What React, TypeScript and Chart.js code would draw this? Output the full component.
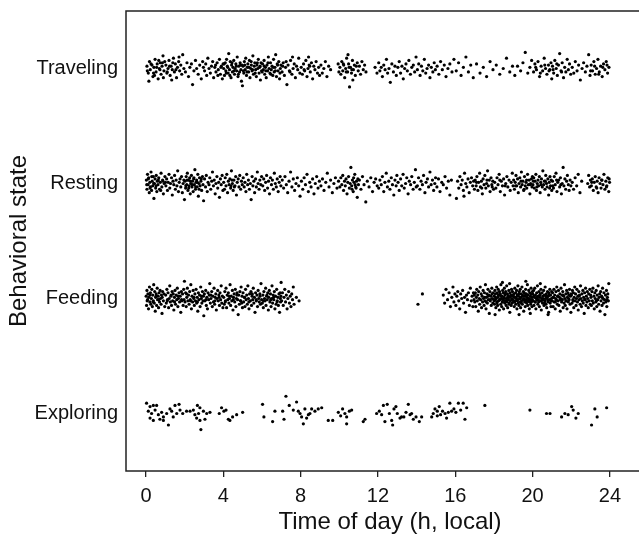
import { useEffect, useRef } from "react";
import { Chart, registerables } from "chart.js";

Chart.register(...registerables);

// Behavioral states, bottom to top (y value = index + 1)
const categories = ["Exploring", "Feeding", "Resting", "Traveling"];
const xTickValues = [0, 4, 8, 12, 16, 20, 24];
const xTitle = "Time of day (h, local)";
const yTitle = "Behavioral state";

// Each array: [time (h), vertical jitter (hundredths of a row), ...]
const traveling = [
  0.05, 2, 0.12, -4, 0.18, 6, 0.22, -1, 0.31, 3, 0.36, -7, 0.41, 1, 0.47, 8, 0.52, -3, 0.58, 4, 0.63, -9, 0.69, 0, 0.74, 5, 0.78, -5, 0.83, 2, 0.88, 11, 0.93, -2, 0.97, 6, 0.15, -11, 0.44, -6, 0.66, 7, 0.9, -8,
  1.03, 3, 1.08, -4, 1.14, 0, 1.19, 7, 1.25, -6, 1.3, 2, 1.36, -1, 1.42, 9, 1.47, -3, 1.52, 4, 1.58, -8, 1.63, 1, 1.69, 6, 1.74, -2, 1.8, 3, 1.85, -5, 1.9, 12, 1.96, 0, 1.33, -10, 1.71, 10,
  2.04, -3, 2.12, 5, 2.2, -7, 2.27, 1, 2.35, 4, 2.41, -14, 2.48, -2, 2.56, 7, 2.62, 0, 2.7, -5, 2.78, 3, 2.86, -9, 2.93, 6, 2.97, 1,
  3.03, -2, 3.09, 4, 3.14, -6, 3.2, 9, 3.26, 0, 3.33, -4, 3.39, 2, 3.45, 6, 3.5, -8, 3.56, 1, 3.62, -3, 3.68, 5, 3.74, -1, 3.8, 8, 3.85, -5, 3.9, 2, 3.95, -9, 3.99, 4,
  4.02, 0, 4.06, -6, 4.1, 5, 4.13, -2, 4.17, 8, 4.21, 2, 4.25, -4, 4.28, 13, 4.32, -1, 4.36, 6, 4.4, -8, 4.43, 3, 4.47, -3, 4.5, 1, 4.54, 7, 4.58, -5, 4.61, 0, 4.65, 4, 4.69, -2, 4.72, 10, 4.76, -7, 4.8, 2, 4.84, -3, 4.87, 5, 4.91, -1, 4.94, -11, 4.97, 3, 4.99, -15,
  5.02, 2, 5.06, -4, 5.09, 6, 5.13, -1, 5.16, 9, 5.2, -6, 5.24, 1, 5.27, 4, 5.31, -3, 5.35, 7, 5.38, -8, 5.42, 0, 5.45, 3, 5.49, -2, 5.53, 11, 5.56, -5, 5.6, 2, 5.63, 5, 5.67, -1, 5.71, -7, 5.74, 3, 5.78, 0, 5.81, 8, 5.85, -4, 5.88, 1, 5.92, -10, 5.95, 5, 5.98, -2,
  6.03, 4, 6.07, -1, 6.11, 7, 6.14, -5, 6.18, 1, 6.22, -8, 6.26, 3, 6.29, -2, 6.33, 10, 6.37, 0, 6.41, -4, 6.44, 5, 6.48, -1, 6.52, 2, 6.56, -6, 6.6, 8, 6.63, -3, 6.67, 1, 6.71, 12, 6.75, -7, 6.79, 4, 6.83, -2, 6.87, 6, 6.91, -9, 6.95, 0, 6.98, 3,
  7.04, -3, 7.1, 5, 7.16, -6, 7.22, 1, 7.29, -14, 7.35, 3, 7.42, -2, 7.48, 7, 7.55, -5, 7.61, 0, 7.67, 4, 7.73, -8, 7.79, 2, 7.85, -1, 7.9, 9, 7.96, -4, 7.25, 6, 7.58, 10,
  8.03, 1, 8.09, -5, 8.15, 4, 8.21, -2, 8.27, 7, 8.33, -7, 8.38, 0, 8.44, 3, 8.5, -3, 8.56, 5, 8.62, -9, 8.68, 2, 8.74, -1, 8.8, 6, 8.87, -4, 8.93, 1, 8.98, -6, 8.41, 10,
  9.05, 3, 9.12, -4, 9.2, 0, 9.28, 6, 9.36, -7, 9.45, 2, 9.55, -1, 9.94, 4, 9.98, -3,
  10.03, 1, 10.08, -5, 10.13, 6, 10.18, -2, 10.23, 3, 10.28, -8, 10.33, 0, 10.38, 9, 10.43, -3, 10.48, 4, 10.53, -16, 10.58, 1, 10.63, -4, 10.68, 7, 10.73, -1, 10.78, 3, 10.83, -6, 10.88, 2, 10.93, 5, 10.98, -2, 10.45, 12, 10.7, -10,
  11.04, 2, 11.1, -5, 11.17, 6, 11.24, -1, 11.31, 3, 11.38, -3, 11.85, 1, 11.95, -4,
  12.04, 5, 12.1, -2, 12.17, 1, 12.23, -7, 12.3, 3, 12.37, -1, 12.44, 8, 12.5, -4, 12.57, 0, 12.64, -12, 12.72, 4, 12.8, -3, 12.88, 2, 12.95, -6,
  13.03, 1, 13.1, 6, 13.17, -4, 13.24, 2, 13.31, -9, 13.38, 0, 13.45, 4, 13.52, -2, 13.6, 7, 13.68, -5, 13.75, 1, 13.83, 3, 13.9, -3, 13.97, 10,
  14.04, -1, 14.11, 4, 14.18, -6, 14.25, 2, 14.32, -2, 14.4, 8, 14.47, -4, 14.54, 0, 14.62, 3, 14.69, -8, 14.76, 1, 14.84, -3, 14.91, 5, 14.97, -1,
  15.06, 2, 15.15, -5, 15.24, 6, 15.33, -1, 15.43, 3, 15.52, -7, 15.62, 0, 15.72, 4, 15.83, -3, 15.93, 8,
  16.05, -2, 16.17, 5, 16.3, -6, 16.42, 1, 16.55, 10, 16.68, -3, 16.8, 3, 16.93, -8,
  17.1, 4, 17.28, -4, 17.45, 1, 17.62, -7, 17.8, 6, 17.95, -1,
  18.12, 3, 18.3, -5, 18.48, 0, 18.65, 9, 18.82, -3, 18.96, 2,
  19.08, -6, 19.22, 2, 19.38, -2, 19.5, 5, 19.62, 14, 19.75, -4, 19.86, 1, 19.95, 7,
  20.05, -3, 20.12, 4, 20.2, -1, 20.28, 6, 20.36, -7, 20.44, 2, 20.52, -2, 20.6, 9, 20.67, 0, 20.74, -5, 20.82, 3, 20.89, -1, 20.95, 5, 20.99, -9,
  21.03, 2, 21.09, -4, 21.15, 7, 21.22, 0, 21.28, -6, 21.34, 3, 21.4, 13, 21.47, -2, 21.53, 5, 21.6, -8, 21.66, 1, 21.72, -3, 21.79, 8, 21.85, -1, 21.91, 4, 21.97, -5,
  22.05, 1, 22.13, -4, 22.21, 6, 22.3, -2, 22.38, 3, 22.47, -10, 22.56, 0, 22.64, 5, 22.73, -3, 22.81, 2, 22.9, 12, 22.97, -6,
  23.03, 3, 23.1, -2, 23.17, 6, 23.24, -5, 23.31, 0, 23.38, 8, 23.45, -3, 23.52, 2, 23.6, -7, 23.67, 4, 23.74, -1, 23.81, 6, 23.88, -4, 23.95, 1,
  0.07, -2, 0.26, 4, 0.39, -4, 0.55, 1, 0.72, -1, 0.85, 5, 1.1, -3, 1.22, 2, 1.39, 5, 1.55, -1, 3.6, 3, 3.72, -6, 3.88, 1, 4.04, 4, 4.15, -4, 4.23, 1, 4.34, -6, 4.45, 5, 4.56, -2, 4.67, 2, 4.78, -5, 4.89, 3,
  5.04, -2, 5.11, 3, 5.22, -3, 5.33, 1, 5.44, 6, 5.51, -1, 5.65, -4, 5.76, 5, 5.9, 2, 6.01, -3, 6.12, 2, 6.2, -2, 6.31, 5, 6.46, -5, 6.58, 1, 6.69, -2, 6.81, 3, 6.93, -4, 7.07, 2, 7.45, -3, 8.18, -1, 8.47, 2,
  10.21, 4, 10.36, -3, 10.51, 1, 10.65, -1, 20.16, 1, 20.4, -4, 20.63, 3, 20.85, -2, 21.06, -1, 21.25, 4, 21.5, -3, 23.0, -2, 23.21, 2, 23.42, -5, 23.63, 1, 23.85, 3,
];

const resting = [
  0.02, 3, 0.05, -5, 0.08, 8, 0.11, -1, 0.14, 5, 0.17, -8, 0.2, 1, 0.23, -3, 0.26, 10, 0.29, -6, 0.32, 2, 0.35, -2, 0.38, 6, 0.41, -13, 0.44, 0, 0.47, 4, 0.5, -4, 0.53, 7, 0.56, -7, 0.59, 2, 0.62, -1, 0.66, 5, 0.7, -5, 0.74, 1, 0.78, 9, 0.82, -3, 0.86, 3, 0.9, -9, 0.94, 0, 0.98, 6,
  1.03, -2, 1.07, 4, 1.11, -6, 1.15, 1, 1.19, 8, 1.23, -4, 1.27, 0, 1.32, 5, 1.36, -10, 1.4, 2, 1.44, -1, 1.48, 7, 1.52, -5, 1.56, 3, 1.6, -2, 1.64, 11, 1.68, -7, 1.72, 1, 1.76, 4, 1.8, -3, 1.84, 6, 1.88, -8, 1.92, 0, 1.96, 3, 1.99, -14,
  2.02, 2, 2.05, -4, 2.08, 6, 2.11, -1, 2.14, 9, 2.17, -6, 2.2, 3, 2.23, -2, 2.26, 5, 2.29, -9, 2.32, 0, 2.35, 7, 2.38, -3, 2.41, 2, 2.44, -7, 2.47, 4, 2.5, -1, 2.53, 12, 2.56, -5, 2.59, 1, 2.62, 3, 2.65, -3, 2.68, 8, 2.71, -11, 2.74, 0, 2.77, 5, 2.8, -2, 2.84, 2, 2.88, -6, 2.92, 6, 2.95, -1, 2.98, -15,
  3.03, 4, 3.08, -3, 3.12, 7, 3.17, -7, 3.21, 1, 3.26, -1, 3.3, 5, 3.35, -5, 3.4, 2, 3.44, 10, 3.49, -2, 3.53, 3, 3.58, -9, 3.62, 0, 3.67, 6, 3.71, -4, 3.76, 1, 3.8, -12, 3.85, 4, 3.89, -1, 3.94, 7, 3.98, -6,
  4.02, 1, 4.06, -5, 4.1, 5, 4.14, -2, 4.18, 8, 4.22, -8, 4.26, 2, 4.3, -1, 4.34, 4, 4.38, -4, 4.42, 11, 4.47, 0, 4.51, -6, 4.55, 3, 4.6, -2, 4.64, 6, 4.68, -10, 4.72, 1, 4.77, 4, 4.81, -3, 4.85, 7, 4.9, -5, 4.94, 2, 4.98, -1,
  5.03, 5, 5.08, -3, 5.12, 1, 5.17, -7, 5.21, 8, 5.26, -1, 5.3, 3, 5.35, -5, 5.4, 0, 5.44, -14, 5.49, 6, 5.53, -2, 5.58, 2, 5.62, -8, 5.67, 4, 5.71, -3, 5.76, 10, 5.8, 0, 5.85, -5, 5.89, 3, 5.94, -1, 5.98, 6,
  6.04, -2, 6.09, 4, 6.14, -6, 6.19, 1, 6.24, 7, 6.29, -4, 6.34, 2, 6.39, -9, 6.44, 5, 6.49, -1, 6.54, 3, 6.59, -5, 6.64, 9, 6.69, 0, 6.74, -3, 6.79, 4, 6.84, -7, 6.89, 1, 6.94, 6, 6.98, -2,
  7.05, 3, 7.12, -4, 7.19, 6, 7.26, -1, 7.33, -8, 7.4, 2, 7.48, 10, 7.55, -3, 7.62, 4, 7.69, -6, 7.76, 0, 7.83, 5, 7.9, -2, 7.97, -11,
  8.04, 2, 8.11, -5, 8.18, 5, 8.25, -1, 8.33, 8, 8.4, -7, 8.47, 1, 8.54, -3, 8.62, 4, 8.69, -9, 8.76, 0, 8.83, 6, 8.9, -4, 8.97, 2,
  9.05, -2, 9.13, 4, 9.21, -6, 9.3, 1, 9.38, 9, 9.47, -3, 9.55, 3, 9.64, -8, 9.72, 0, 9.8, 5, 9.88, -4, 9.96, 2,
  10.03, -3, 10.08, 5, 10.13, -1, 10.18, 7, 10.22, -6, 10.27, 2, 10.31, -2, 10.35, 4, 10.4, -9, 10.44, 1, 10.48, 6, 10.52, -4, 10.56, 0, 10.6, 14, 10.64, -2, 10.68, 3, 10.72, -7, 10.76, 1, 10.8, 8, 10.85, -3, 10.89, 2, 10.93, -12, 10.96, 4, 10.99, -1,
  11.04, 3, 11.12, -5, 11.2, 6, 11.28, -1, 11.37, -16, 11.45, 2, 11.54, -3, 11.63, 5, 11.72, -7, 11.8, 1, 11.88, 4, 11.96, -2,
  12.04, -4, 12.1, 3, 12.17, -1, 12.23, 6, 12.3, -7, 12.36, 1, 12.43, 9, 12.49, -3, 12.56, 2, 12.62, -5, 12.69, 5, 12.75, -1, 12.82, -10, 12.88, 3, 12.94, -2, 12.98, 7,
  13.04, 1, 13.1, -6, 13.17, 4, 13.23, -2, 13.3, 8, 13.36, -4, 13.43, 0, 13.49, 5, 13.56, -9, 13.62, 2, 13.69, -1, 13.75, 6, 13.82, -5, 13.88, 1, 13.94, 12, 13.98, -3,
  14.04, -2, 14.1, 5, 14.17, -5, 14.23, 2, 14.3, -1, 14.36, 7, 14.43, -8, 14.49, 1, 14.56, 4, 14.62, -3, 14.69, 10, 14.75, -1, 14.82, 3, 14.88, -6, 14.94, 0, 14.98, 5,
  15.05, -3, 15.13, 4, 15.21, -7, 15.3, 1, 15.38, -1, 15.47, 6, 15.55, -4, 15.64, 2, 15.72, -10, 15.8, 3,
  16.06, -13, 16.12, 2, 16.18, -4, 16.24, 6, 16.3, -1, 16.36, 3, 16.42, -6, 16.48, 9, 16.54, 0, 16.6, -3, 16.66, 4, 16.72, -8, 16.78, 1, 16.84, 5, 16.9, -2, 16.95, 2, 16.99, -5, 16.45, -11,
  17.03, 3, 17.08, -2, 17.12, 6, 17.17, -6, 17.21, 1, 17.26, 9, 17.3, -3, 17.35, 2, 17.4, -9, 17.44, 4, 17.49, -1, 17.53, 7, 17.58, -4, 17.62, 0, 17.67, 11, 17.71, -2, 17.76, 3, 17.8, -7, 17.85, 5, 17.89, -1, 17.94, 2, 17.98, -5,
  18.04, 1, 18.1, -4, 18.16, 5, 18.21, -1, 18.27, 8, 18.33, -7, 18.38, 2, 18.44, -2, 18.5, 4, 18.55, -10, 18.61, 0, 18.67, 6, 18.72, -3, 18.78, 3, 18.84, -6, 18.89, 1, 18.95, 9, 18.99, -2,
  19.02, 3, 19.06, -5, 19.1, 1, 19.14, 7, 19.18, -2, 19.22, 4, 19.26, -8, 19.3, 0, 19.34, 5, 19.38, -3, 19.42, 10, 19.46, -1, 19.5, 2, 19.54, -6, 19.58, 6, 19.62, -2, 19.66, 1, 19.7, -4, 19.74, 8, 19.78, -1, 19.82, 3, 19.86, -9, 19.9, 0, 19.94, 4, 19.97, -3, 19.99, 6,
  20.02, -1, 20.06, 5, 20.09, -4, 20.13, 2, 20.17, 8, 20.2, -6, 20.24, 0, 20.28, 3, 20.31, -2, 20.35, 6, 20.39, -8, 20.42, 1, 20.46, 4, 20.5, -3, 20.53, 11, 20.57, -1, 20.61, 2, 20.64, -5, 20.68, 7, 20.72, 0, 20.75, -3, 20.79, 4, 20.83, -10, 20.86, 1, 20.9, 6, 20.93, -2, 20.96, 3, 20.99, -6,
  21.03, 2, 21.08, -4, 21.12, 6, 21.17, -1, 21.21, 9, 21.26, -7, 21.3, 1, 21.35, 3, 21.4, -3, 21.44, 5, 21.49, -9, 21.53, 0, 21.58, 14, 21.62, -2, 21.67, 4, 21.71, -5, 21.76, 2, 21.8, 7, 21.85, -1, 21.89, -6, 21.94, 3, 21.98, -2,
  22.05, 1, 22.12, -5, 22.2, 5, 22.28, -2, 22.36, 8, 22.45, -8, 22.54, 2, 22.85, 0, 22.9, 7, 22.95, -3, 22.99, 3,
  23.04, -2, 23.09, 4, 23.14, -6, 23.19, 1, 23.24, 6, 23.29, -3, 23.34, 2, 23.39, -8, 23.44, 5, 23.49, 0, 23.54, -4, 23.59, 3, 23.64, -1, 23.69, 8, 23.74, -5, 23.79, 2, 23.84, -2, 23.89, 5, 23.94, -7, 23.98, 1,
  0.04, -1, 0.12, 4, 0.21, -4, 0.3, 6, 0.4, 0, 0.52, -2, 0.64, 3, 0.76, -6, 0.88, 2, 1.01, 1, 2.06, -2, 2.13, 3, 2.21, -4, 2.3, 2, 2.39, -1, 2.48, 5, 2.57, -3, 2.66, 1, 2.75, -5, 2.86, 4, 4.4, -2, 4.45, 3, 4.57, -3,
  10.66, -5, 10.74, 5, 10.82, -1, 10.87, -4, 17.1, 1, 17.37, -4, 17.64, 3, 17.91, -3, 18.3, 3, 18.58, -2, 19.12, -2, 19.4, 2, 19.56, -5, 19.69, 3, 19.88, -1, 20.04, 2, 20.22, -3, 20.44, -1, 20.66, 2, 20.88, -4,
  21.05, -2, 21.24, 3, 21.46, -1, 23.06, 1, 23.32, -4, 23.57, 3, 23.82, -3, 23.96, 4,
];

const feeding = [
  0.01, 2, 0.03, -6, 0.05, 7, 0.08, -1, 0.1, 4, 0.13, -9, 0.15, 1, 0.18, 10, 0.2, -3, 0.23, 5, 0.25, -5, 0.28, 0, 0.3, 8, 0.33, -7, 0.35, 3, 0.38, -2, 0.4, 12, 0.43, -4, 0.45, 6, 0.48, -11, 0.5, 1, 0.53, 4, 0.55, -6, 0.58, 9, 0.6, -1, 0.63, 2, 0.65, -8, 0.68, 5, 0.7, -3, 0.73, 7, 0.75, 0, 0.78, -5, 0.8, 3, 0.83, -13, 0.86, 6, 0.9, -2, 0.93, 4, 0.97, -7,
  1.02, 3, 1.05, -4, 1.08, 8, 1.11, -1, 1.14, 5, 1.17, -8, 1.2, 0, 1.23, 11, 1.26, -3, 1.29, 2, 1.32, -6, 1.35, 6, 1.38, -2, 1.41, 4, 1.44, -10, 1.47, 1, 1.5, 7, 1.53, -5, 1.56, 3, 1.59, -1, 1.62, 9, 1.65, -7, 1.68, 0, 1.71, 5, 1.74, -3, 1.77, 2, 1.8, -12, 1.83, 6, 1.86, -2, 1.89, 4, 1.92, -6, 1.95, 8, 1.97, -1, 1.99, 15,
  2.02, -3, 2.05, 5, 2.08, -7, 2.11, 1, 2.14, 9, 2.17, -2, 2.2, 3, 2.23, -5, 2.26, 6, 2.29, -1, 2.32, 12, 2.35, -9, 2.38, 2, 2.41, -3, 2.44, 7, 2.47, 0, 2.5, -6, 2.53, 4, 2.56, -2, 2.59, 8, 2.62, -4, 2.65, 1, 2.68, -11, 2.71, 5, 2.74, -1, 2.77, 3, 2.8, -7, 2.83, 10, 2.86, 0, 2.89, -4, 2.92, 6, 2.95, -2, 2.97, 2, 2.99, -15,
  3.02, 4, 3.05, -2, 3.09, 7, 3.12, -6, 3.15, 1, 3.18, -9, 3.21, 5, 3.24, -1, 3.27, 3, 3.3, 13, 3.33, -4, 3.36, 0, 3.4, 6, 3.43, -7, 3.46, 2, 3.49, -3, 3.52, 9, 3.55, -5, 3.58, 1, 3.61, 4, 3.64, -10, 3.67, 0, 3.71, 7, 3.74, -2, 3.77, 3, 3.8, -6, 3.83, 5, 3.86, -1, 3.89, 11, 3.92, -4, 3.95, 2, 3.98, -8,
  4.02, 1, 4.05, -5, 4.08, 6, 4.11, -2, 4.14, 9, 4.17, -8, 4.2, 3, 4.23, -1, 4.26, 5, 4.29, -4, 4.32, 0, 4.35, 12, 4.38, -6, 4.41, 2, 4.44, -2, 4.47, 7, 4.5, -10, 4.53, 1, 4.56, 4, 4.59, -3, 4.62, 8, 4.65, -7, 4.68, 0, 4.71, 5, 4.74, -1, 4.77, -14, 4.8, 3, 4.83, -5, 4.86, 6, 4.89, -2, 4.92, 10, 4.95, -4, 4.97, 2, 4.99, -8,
  5.02, 5, 5.05, -3, 5.09, 1, 5.12, -7, 5.15, 8, 5.18, -1, 5.21, 3, 5.24, -5, 5.27, 11, 5.3, 0, 5.33, -9, 5.36, 4, 5.4, -2, 5.43, 6, 5.46, -6, 5.49, 2, 5.52, -1, 5.55, 9, 5.58, -4, 5.61, 1, 5.64, -12, 5.67, 5, 5.71, -2, 5.74, 3, 5.77, -7, 5.8, 7, 5.83, 0, 5.86, -3, 5.89, 4, 5.92, -5, 5.95, 13, 5.98, -1,
  6.02, -4, 6.05, 3, 6.07, -8, 6.1, 6, 6.13, 0, 6.16, -2, 6.19, 9, 6.21, -6, 6.24, 2, 6.27, -1, 6.3, 5, 6.33, -10, 6.35, 1, 6.38, 7, 6.41, -3, 6.44, 4, 6.47, -7, 6.5, 0, 6.52, 11, 6.55, -4, 6.58, 3, 6.61, -1, 6.64, 6, 6.67, -9, 6.7, 2, 6.73, -5, 6.76, 8, 6.79, -2, 6.82, 1, 6.85, -6, 6.88, 4, 6.91, -12, 6.94, 5, 6.96, -3, 6.98, 2, 6.99, 14,
  7.02, -2, 7.06, 5, 7.1, -6, 7.14, 1, 7.18, 8, 7.22, -3, 7.26, 3, 7.3, -9, 7.34, 0, 7.38, 6, 7.42, -4, 7.46, 2, 7.5, -7, 7.54, 4, 7.58, -1, 7.62, 10, 7.66, -5, 7.78, 1, 7.92, -2,
  14.07, -5, 14.3, 4,
  15.38, 3, 15.45, -4, 15.52, 8, 15.6, -1, 15.68, 5, 15.75, -7, 15.82, 1, 15.88, 10, 15.93, -3, 15.98, 4,
  16.03, -6, 16.08, 2, 16.13, 6, 16.18, -2, 16.23, -9, 16.28, 4, 16.33, 0, 16.38, 7, 16.43, -4, 16.48, 1, 16.53, -12, 16.58, 3, 16.63, -1, 16.68, 5, 16.73, -6, 16.78, 9, 16.83, -2, 16.87, 2, 16.91, -7, 16.94, 5, 16.97, -1, 16.99, 3,
  17.01, -3, 17.04, 5, 17.06, -7, 17.09, 1, 17.11, 8, 17.14, -2, 17.16, 3, 17.19, -11, 17.21, 6, 17.24, 0, 17.26, -5, 17.29, 10, 17.31, -1, 17.34, 4, 17.36, -8, 17.39, 2, 17.41, -3, 17.44, 7, 17.46, 0, 17.49, -6, 17.51, 5, 17.54, -2, 17.56, 12, 17.59, -9, 17.61, 1, 17.64, 4, 17.66, -4, 17.69, 8, 17.71, -1, 17.74, 3, 17.76, -13, 17.79, 6, 17.81, -2, 17.84, 2, 17.86, -6, 17.89, 9, 17.91, 0, 17.94, -4, 17.96, 5, 17.99, -1,
  18.01, 2, 18.03, -5, 18.05, 7, 18.07, -1, 18.08, 4, 18.1, -8, 18.12, 0, 18.14, 10, 18.15, -3, 18.17, 5, 18.19, -6, 18.21, 1, 18.22, 8, 18.24, -2, 18.26, 3, 18.28, -10, 18.29, 6, 18.31, -1, 18.33, 4, 18.35, -5, 18.36, 12, 18.38, 0, 18.4, -7, 18.42, 2, 18.43, -3, 18.45, 7, 18.47, -1, 18.49, 5, 18.5, -9, 18.52, 1, 18.54, 9, 18.56, -4, 18.57, 3, 18.59, -2, 18.61, 6, 18.63, -6, 18.64, 0, 18.66, 11, 18.68, -3, 18.7, 4, 18.71, -8, 18.73, 2, 18.75, -1, 18.77, 7, 18.78, -5, 18.8, 1, 18.82, -12, 18.84, 5, 18.85, -2, 18.87, 3, 18.89, -6, 18.91, 8, 18.92, 0, 18.94, -4, 18.96, 6, 18.98, -1, 18.99, 2, 18.06, -14, 18.44, 14, 18.81, 13,
  19.01, -3, 19.03, 4, 19.05, -7, 19.06, 1, 19.08, 9, 19.1, -2, 19.12, 5, 19.13, -5, 19.15, 0, 19.17, 7, 19.19, -9, 19.2, 3, 19.22, -1, 19.24, 11, 19.26, -4, 19.27, 2, 19.29, -6, 19.31, 6, 19.33, 0, 19.34, -3, 19.36, 8, 19.38, -8, 19.4, 1, 19.41, 4, 19.43, -2, 19.45, 10, 19.47, -5, 19.48, 3, 19.5, -1, 19.52, 6, 19.54, -11, 19.55, 0, 19.57, 5, 19.59, -3, 19.61, 2, 19.62, -7, 19.64, 8, 19.66, -1, 19.68, 4, 19.69, -4, 19.71, 1, 19.73, 12, 19.75, -6, 19.76, 3, 19.78, -2, 19.8, 7, 19.82, 0, 19.83, -9, 19.85, 5, 19.87, -1, 19.89, 2, 19.9, -5, 19.92, 9, 19.94, -3, 19.96, 1, 19.97, -7, 19.99, 6, 19.3, -14, 19.65, 15, 19.88, -13,
  20.01, 4, 20.03, -2, 20.05, 7, 20.07, -6, 20.09, 1, 20.11, 9, 20.13, -3, 20.15, 3, 20.17, -9, 20.19, 0, 20.21, 5, 20.23, -1, 20.25, 11, 20.27, -5, 20.29, 2, 20.31, -3, 20.33, 6, 20.35, -7, 20.37, 1, 20.39, 4, 20.41, -2, 20.43, 8, 20.45, -10, 20.47, 0, 20.49, 5, 20.51, -4, 20.53, 2, 20.55, -1, 20.57, 7, 20.59, -6, 20.61, 3, 20.63, -2, 20.65, 10, 20.67, 0, 20.69, -5, 20.71, 4, 20.73, -8, 20.75, 1, 20.77, 6, 20.79, -3, 20.81, 2, 20.83, -12, 20.85, 5, 20.87, -1, 20.89, 8, 20.91, -4, 20.93, 3, 20.95, -7, 20.97, 0, 20.99, 6, 20.4, 13, 20.8, -14,
  21.01, -2, 21.03, 5, 21.06, -7, 21.08, 1, 21.1, 8, 21.12, -3, 21.14, 3, 21.17, -9, 21.19, 0, 21.21, 6, 21.23, -1, 21.25, 10, 21.28, -5, 21.3, 2, 21.32, -2, 21.34, 7, 21.36, -6, 21.39, 1, 21.41, 4, 21.43, -11, 21.45, 0, 21.47, 9, 21.5, -3, 21.52, 3, 21.54, -1, 21.56, 6, 21.58, -8, 21.61, 2, 21.63, -4, 21.65, 12, 21.67, 0, 21.69, -6, 21.72, 4, 21.74, -2, 21.76, 7, 21.78, -9, 21.8, 1, 21.83, 5, 21.85, -3, 21.87, 3, 21.89, -1, 21.91, 8, 21.94, -5, 21.96, 2, 21.98, -12, 21.99, 4,
  22.01, 3, 22.04, -4, 22.06, 7, 22.08, -1, 22.11, 5, 22.13, -8, 22.15, 1, 22.18, 10, 22.2, -2, 22.22, 4, 22.25, -6, 22.27, 0, 22.29, 8, 22.32, -3, 22.34, 2, 22.36, -10, 22.39, 6, 22.41, -1, 22.43, 3, 22.46, -5, 22.48, 11, 22.5, 0, 22.53, -7, 22.55, 4, 22.57, -2, 22.6, 7, 22.62, -4, 22.64, 1, 22.67, -13, 22.69, 5, 22.71, -1, 22.74, 9, 22.76, -6, 22.78, 2, 22.81, -3, 22.83, 6, 22.85, 0, 22.88, -8, 22.9, 4, 22.93, -2, 22.96, 8, 22.98, -5,
  23.02, 1, 23.04, -6, 23.07, 6, 23.09, -2, 23.12, 9, 23.14, -4, 23.17, 2, 23.19, -9, 23.22, 5, 23.24, 0, 23.27, -3, 23.29, 7, 23.32, -7, 23.34, 3, 23.37, -1, 23.39, 11, 23.42, -5, 23.44, 1, 23.47, 4, 23.49, -11, 23.52, 6, 23.54, -2, 23.57, 2, 23.59, -6, 23.62, 9, 23.64, 0, 23.67, -4, 23.69, 5, 23.72, -1, 23.74, -14, 23.77, 3, 23.79, -3, 23.82, 7, 23.84, -7, 23.87, 1, 23.89, 4, 23.92, -2, 23.94, 13,
  0.06, -2, 0.21, 3, 0.36, -3, 0.52, 2, 0.66, -1, 0.84, 1, 1.1, -2, 1.3, 3, 1.48, -3, 1.66, 2, 1.84, -1, 2.1, 4, 2.3, -2, 2.48, 1, 2.66, -3, 2.88, 2, 3.1, -1, 3.35, 3, 3.57, -2, 3.78, 1,
  4.1, -3, 4.3, 2, 4.52, -1, 4.7, 3, 4.9, -2, 5.1, 1, 5.32, -3, 5.5, 4, 5.7, -1, 5.9, 2, 6.08, -2, 6.26, 3, 6.45, -1, 6.6, 1, 6.78, -3, 6.95, 0,
  17.52, 1, 17.6, -3, 17.7, 2, 17.8, -1, 17.9, 4, 18.02, -2, 18.09, 1, 18.16, -4, 18.23, 3, 18.3, -1, 18.37, 2, 18.44, -3, 18.51, 0, 18.58, 4, 18.65, -2, 18.72, 1, 18.79, -4, 18.86, 2, 18.93, -1, 19.0, 3,
  19.07, -3, 19.14, 1, 19.21, -2, 19.28, 4, 19.35, 0, 19.42, -4, 19.49, 2, 19.56, -1, 19.63, 3, 19.7, -2, 19.77, 0, 19.84, -3, 19.91, 4, 19.98, -1, 20.06, 2, 20.14, -3, 20.22, 1, 20.3, -1, 20.38, 3, 20.46, -2,
  20.54, 0, 20.62, -4, 20.7, 2, 20.78, -1, 20.86, 3, 20.94, -2, 21.05, 1, 21.18, -3, 21.3, 2, 21.44, -1, 21.58, 3, 21.72, -2, 21.86, 0, 22.1, -2, 22.4, 2, 22.7, -1, 23.0, 3, 23.3, -2, 23.6, 1, 23.85, -1,
];

const exploring = [
  0.03, 9, 0.21, 6, 0.38, 7, 0.55, 7, 0.12, 2, 0.29, 0, 0.47, 3, 0.64, -1, 0.81, 1, 0.21, -4, 0.38, -6, 0.9, -3, 1.07, 0, 1.24, 4, 1.33, 2, 1.5, 7, 1.71, 8, 1.76, 3, 1.16, -10, 0.9, -6, 0.72, -5,
  1.9, 0, 2.1, 2, 2.28, 2, 2.45, 3, 2.66, 7, 2.72, 0, 2.79, 5, 2.97, 2, 3.14, 0, 2.62, -4, 2.79, -6, 2.84, -14, 3.05, -5, 3.31, 1, 2.53, -1, 1.59, 0, 1.41, -3,
  3.79, 0, 3.91, 5, 4.03, 2, 4.14, 3, 4.26, -5, 4.34, -6, 4.48, -3, 4.69, -1, 5.0, 1,
  6.03, 8, 6.1, -3, 6.55, -7, 6.67, 2, 7.07, 2, 7.14, -5, 7.24, 15, 7.41, 7, 7.62, 3, 7.79, 10, 7.88, 2, 7.97, 0, 8.05, -3, 8.14, -9, 8.22, 4, 8.31, -4, 8.4, -1, 8.48, 0, 8.57, 4, 8.74, 2, 8.91, 4, 9.09, 5,
  9.43, -6, 9.66, -6, 9.95, 1, 10.07, -2, 10.17, 4, 10.29, 0, 10.38, -3, 10.38, -9, 10.52, 2, 10.64, 3, 11.24, -7, 11.33, -5,
  11.93, 0, 12.07, 2, 12.19, -1, 12.28, 7, 12.36, -7, 12.48, 8, 12.59, 0, 12.71, -6, 12.76, -10, 12.83, 4, 12.93, 6, 13.0, 0, 13.14, -4, 13.22, -3, 13.34, -3, 13.45, 1, 13.57, 8, 13.66, -1, 13.74, 0, 13.83, -5, 13.97, -3, 14.14, -7, 14.26, -3,
  14.78, -3, 14.86, 0, 14.95, 4, 15.07, 2, 15.17, 6, 15.24, -1, 15.34, 2, 15.47, 0, 15.55, -4, 15.64, 1, 15.72, 9, 15.81, 2, 15.93, 4, 16.03, 1, 16.16, 9, 16.28, 3, 16.41, 9, 16.5, -5, 16.59, 5, 15.07, -2,
  17.53, 7, 19.86, 3, 20.72, 0, 20.9, 0, 21.5, -3, 21.67, 0, 21.84, -1, 22.02, 6, 22.1, 3, 22.24, -4, 22.36, 0, 23.05, -10, 23.22, 4, 23.34, -3, 23.83, 5,
];

const seriesByCategory = [exploring, feeding, resting, traveling];

const FONT = "'Liberation Sans', Arial, Helvetica, sans-serif";
const INK = "#111";

const framePlugin = {
  id: "frame",
  afterDatasetsDraw(chart: any) {
    const { ctx, chartArea } = chart;
    ctx.save();
    ctx.strokeStyle = "#222";
    ctx.lineWidth = 1.5;
    ctx.strokeRect(chartArea.left, chartArea.top, chartArea.right - chartArea.left, chartArea.bottom - chartArea.top);
    ctx.restore();
  },
};

export default function App() {
  const ref = useRef<HTMLCanvasElement | null>(null);

  useEffect(() => {
    if (!ref.current) return;
    const datasets = seriesByCategory.map((arr, ci) => {
      const pts: { x: number; y: number }[] = [];
      for (let i = 0; i + 1 < arr.length; i += 2) {
        pts.push({ x: arr[i], y: ci + 1 + arr[i + 1] / 100 });
      }
      return {
        label: categories[ci],
        data: pts,
        pointRadius: 1.6,
        pointBorderWidth: 0,
        pointBackgroundColor: "#000",
        pointBorderColor: "#000",
        showLine: false,
      };
    });

    const chart = new Chart(ref.current, {
      type: "scatter",
      data: { datasets },
      plugins: [framePlugin],
      options: {
        animation: false,
        responsive: false,
        maintainAspectRatio: false,
        events: [],
        layout: { padding: { top: 11, right: 6, bottom: 0, left: 0 } },
        plugins: { legend: { display: false }, tooltip: { enabled: false } },
        scales: {
          x: {
            type: "linear",
            min: -1.034,
            max: 26.28,
            afterBuildTicks: (s: any) => {
              s.ticks = xTickValues.map((v) => ({ value: v }));
            },
            afterFit: (s: any) => {
              s.height = 70;
              s.paddingLeft = 0;
              s.paddingRight = 0;
            },
            grid: {
              display: true,
              drawOnChartArea: false,
              drawTicks: true,
              tickLength: 6,
              color: "#222",
              lineWidth: 1.3,
            },
            border: { display: false },
            ticks: {
              padding: 7,
              autoSkip: false,
              maxRotation: 0,
              color: INK,
              font: { family: FONT, size: 20 },
              callback: (v: any) => String(v),
            },
            title: {
              display: true,
              text: xTitle,
              color: INK,
              font: { family: FONT, size: 24 },
              padding: { top: 0, bottom: 4 },
            },
          },
          y: {
            type: "linear",
            min: 0.5,
            max: 4.5,
            afterBuildTicks: (s: any) => {
              s.ticks = categories.map((_, i) => ({ value: i + 1 }));
            },
            afterFit: (s: any) => {
              s.width = 126;
              s.paddingTop = 0;
              s.paddingBottom = 0;
            },
            grid: { display: false, drawTicks: false },
            border: { display: false },
            ticks: {
              padding: 8,
              color: INK,
              font: { family: FONT, size: 20 },
              callback: (v: any) => categories[Math.round(v) - 1] ?? "",
            },
            title: {
              display: true,
              text: yTitle,
              color: INK,
              font: { family: FONT, size: 24 },
              padding: { top: 5, bottom: 0 },
            },
          },
        },
      } as any,
    });
    return () => chart.destroy();
  }, []);

  return (
    <div style={{ position: "absolute", left: 0, top: 0, width: 639, height: 541, overflow: "hidden", background: "#fff" }}>
      <canvas ref={ref} width={660} height={541} style={{ width: 660, height: 541, display: "block" }} />
    </div>
  );
}
